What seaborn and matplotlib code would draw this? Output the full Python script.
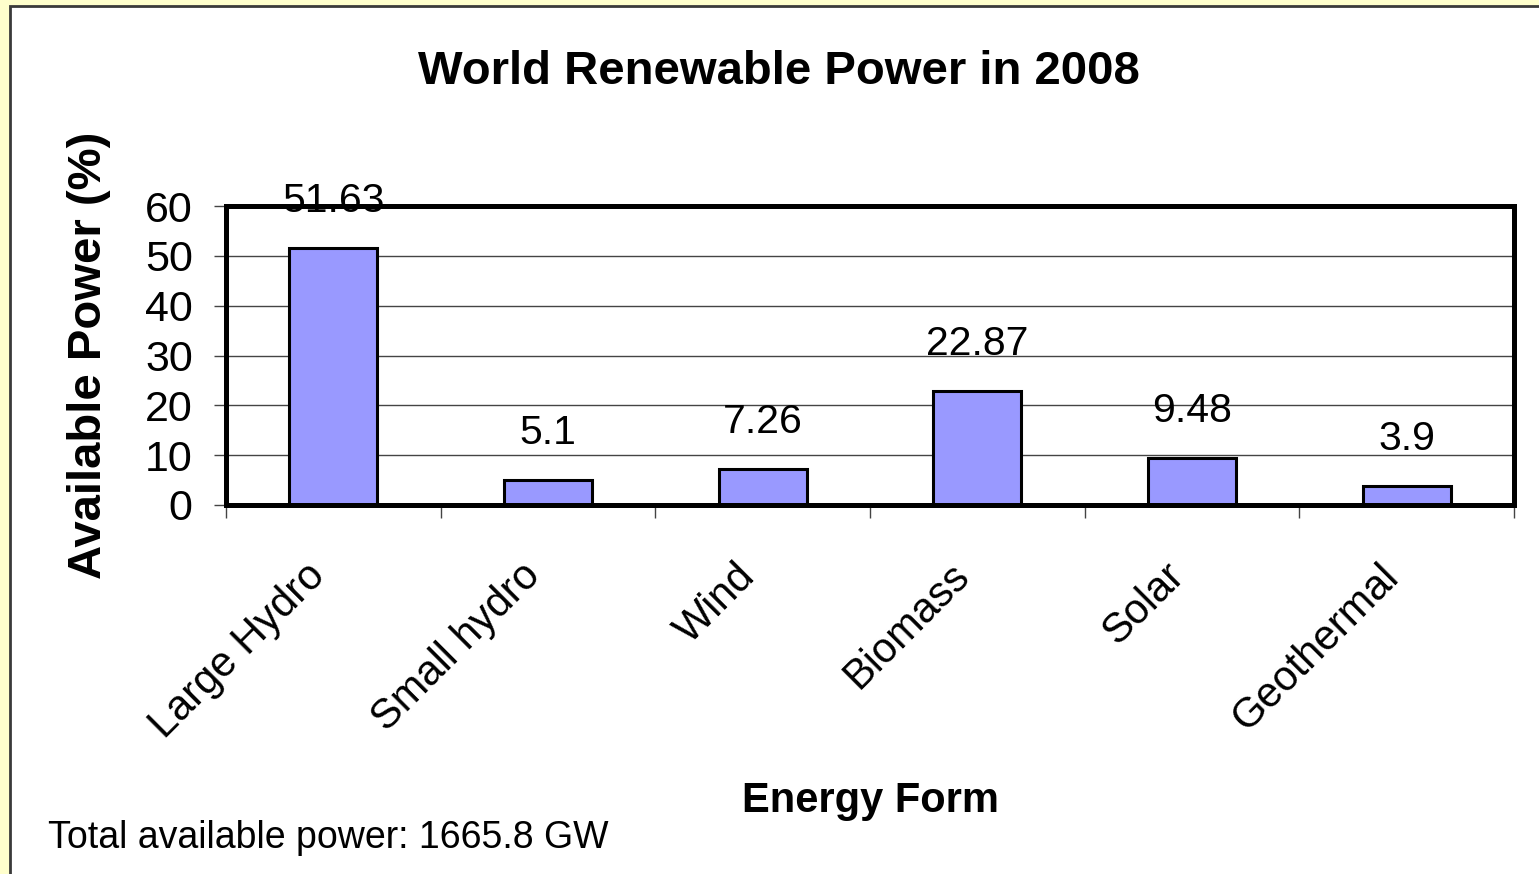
import matplotlib
matplotlib.use("Agg")
import matplotlib.pyplot as plt
import matplotlib.ticker as ticker
from matplotlib.patches import Rectangle
import seaborn as sns
import pandas as pd

# data
categories = ["Large Hydro", "Small hydro", "Wind", "Biomass", "Solar", "Geothermal"]
shares = [51.63, 5.1, 7.26, 22.87, 9.48, 3.9]
y_ticks = [0, 10, 20, 30, 40, 50, 60]

df = pd.DataFrame({"Energy Form": categories, "Available Power (%)": shares})

sns.set_theme(style="white")
plt.rcParams["font.family"] = ["Liberation Sans", "DejaVu Sans"]
plt.rcParams["text.color"] = "black"
plt.rcParams["axes.labelcolor"] = "black"
plt.rcParams["xtick.color"] = "black"
plt.rcParams["ytick.color"] = "black"

fig = plt.figure(figsize=(15.39, 8.74), dpi=100)
fig.patch.set_facecolor("#FFFFCC")
# white chart area with dark frame (runs off right / bottom edge)
fig.patches.append(Rectangle((10 / 1539, -0.05), 1.2, 1 - 6 / 874 + 0.05,
                             transform=fig.transFigure, facecolor="white",
                             edgecolor="#3a3a3a", linewidth=2, zorder=-10))

ax = fig.add_axes([226 / 1539, 1 - 505 / 874, (1514 - 226) / 1539, (505 - 206) / 874])
ax.set_zorder(2)
ax.set_facecolor("white")

sns.barplot(data=df, x="Energy Form", y="Available Power (%)", color="#9999FF",
            saturation=1, width=0.41, edgecolor="black", linewidth=2.2, ax=ax, zorder=3)

ax.set_ylim(0, 60)
ax.set_xlim(-0.5, len(categories) - 0.5)
ax.set_yticks(y_ticks)
ax.yaxis.grid(True, color="#444444", linewidth=1)
ax.set_axisbelow(True)

for s in ax.spines.values():
    s.set_visible(True)
    s.set_linewidth(3.6)
    s.set_color("black")
    s.set_zorder(5)

ax.tick_params(axis="y", which="major", direction="out", length=9, width=1,
               color="#444444", labelsize=31, pad=15, left=True)
ax.tick_params(axis="x", which="major", length=0, labelsize=30, pad=57)
ax.xaxis.set_minor_locator(ticker.FixedLocator([i - 0.5 for i in range(len(categories) + 1)]))
ax.tick_params(axis="x", which="minor", direction="out", length=9, width=1,
               color="#444444", bottom=True)
for lab in ax.get_xticklabels():
    lab.set_rotation(45)
    lab.set_ha("right")
    lab.set_va("bottom")
    lab.set_rotation_mode("anchor")

ax.bar_label(ax.containers[0], labels=[f"{v:g}" for v in shares],
             fontsize=29.5, padding=20, color="black")

ax.set_xlabel("Energy Form", fontsize=30, fontweight="bold", labelpad=25)
ax.set_ylabel("Available Power (%)", fontsize=34, fontweight="bold", labelpad=24)

fig.text(779 / 1539, 1 - 72 / 874, "World Renewable Power in 2008",
         fontsize=34, fontweight="bold", ha="center", va="center")
fig.text(48 / 1539, 1 - 838 / 874, "Total available power: 1665.8 GW",
         fontsize=27, ha="left", va="center")

fig.savefig("out.png", dpi=100, facecolor=fig.get_facecolor())
